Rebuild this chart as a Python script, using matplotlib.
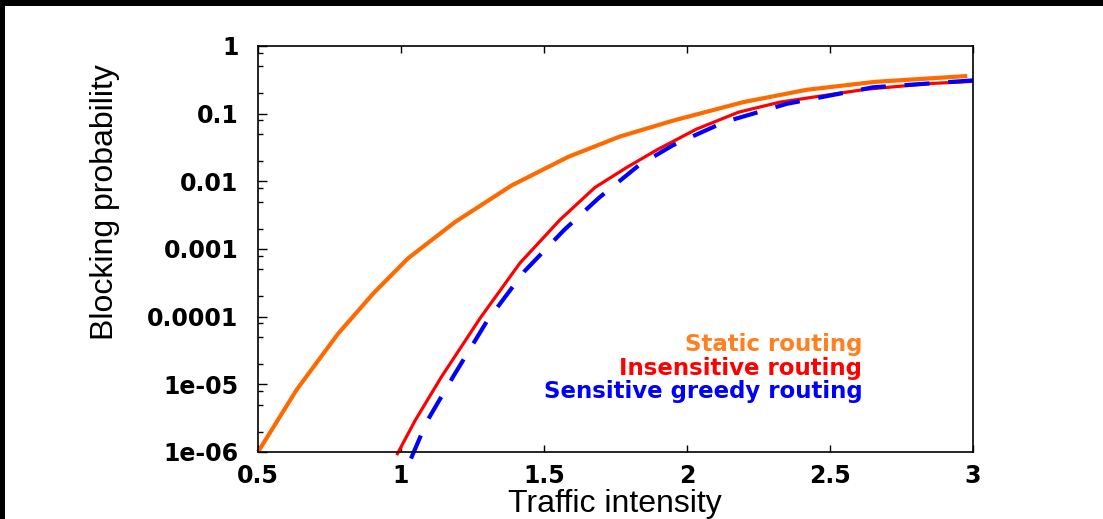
import matplotlib
matplotlib.use("Agg")
import matplotlib.pyplot as plt
from matplotlib.patches import Rectangle
from matplotlib.ticker import LogLocator, NullFormatter

# values
static_x = [0.5, 0.635, 0.78, 0.903, 1.025, 1.189, 1.387, 1.585, 1.766, 1.952, 2.197, 2.418, 2.657, 2.98]
static_y = [1e-6, 8.3e-6, 5.6e-5, 2.2e-4, 7.3e-4, 2.5e-3, 8.7e-3, 0.023, 0.046, 0.079, 0.148, 0.225, 0.295, 0.36]

insens_x = [0.985, 1.05, 1.142, 1.276, 1.416, 1.556, 1.678, 1.789, 1.894, 2.033, 2.18, 2.325, 2.628, 2.86, 3.0]
insens_y = [9e-7, 2.95e-6, 1.3e-5, 9.4e-5, 6.2e-4, 2.7e-3, 8.1e-3, 0.016, 0.029, 0.059, 0.105, 0.148, 0.23, 0.28, 0.30]

sens_x = [1.035, 1.09, 1.18, 1.30, 1.43, 1.57, 1.69, 1.83, 1.95, 2.13, 2.35, 2.65, 3.0]
sens_y = [8e-7, 2.8e-6, 1.25e-5, 8.5e-5, 4.6e-4, 1.9e-3, 5.6e-3, 0.017, 0.034, 0.075, 0.14, 0.245, 0.31]

xticks = [0.5, 1, 1.5, 2, 2.5, 3]
xtick_labels = ["0.5", "1", "1.5", "2", "2.5", "3"]
yticks = [1e-6, 1e-5, 1e-4, 1e-3, 1e-2, 1e-1, 1]
ytick_labels = ["1e-06", "1e-05", "0.0001", "0.001", "0.01", "0.1", "1"]

labels = ["Static routing", "Insensitive routing", "Sensitive greedy routing"]
label_colors = ["#ff8020", "#ff0000", "#0000ff"]

fig = plt.figure(figsize=(11.03, 5.19), dpi=100)
ax = fig.add_axes([0.2339, 0.1291, 0.6482, 0.7823])

ax.plot(static_x, static_y, color="#ff6a00", lw=3, clip_on=False, solid_capstyle="butt")
ax.plot(insens_x, insens_y, color="#ff0000", lw=2.3, clip_on=False, solid_capstyle="butt")
ax.plot(sens_x, sens_y, color="#0000ff", lw=3, ls=(0, (6, 4.5)), clip_on=False)

ax.set_yscale("log")
ax.set_xlim(0.5, 3)
ax.set_ylim(1e-6, 1)

ax.set_xticks(xticks)
ax.set_xticklabels(xtick_labels)
ax.set_yticks(yticks)
ax.set_yticklabels(ytick_labels)
ax.yaxis.set_minor_locator(LogLocator(base=10, subs=(2, 5, 8)))
ax.yaxis.set_minor_formatter(NullFormatter())

for lab in ax.get_xticklabels() + ax.get_yticklabels():
    lab.set_fontfamily("DejaVu Sans")
    lab.set_fontweight("bold")
    lab.set_fontsize(17)

ax.tick_params(axis="y", which="major", direction="in", length=6.5, width=1, pad=14, right=False)
ax.tick_params(axis="y", which="minor", direction="in", length=3.5, width=1, right=False)
ax.tick_params(axis="x", which="major", direction="in", length=5, width=1, pad=9, top=True)

for sp in ax.spines.values():
    sp.set_linewidth(1.2)

ax.set_xlabel("Traffic intensity", fontsize=23, family="Liberation Sans", va="top")
ax.xaxis.set_label_coords(0.499, -0.09)
ax.set_ylabel("Blocking probability", fontsize=23, family="Liberation Sans", va="center")
ax.yaxis.set_label_coords(-0.214, 0.616)

text_y = [0.249, 0.190, 0.133]
for lab, col, ty in zip(labels, label_colors, text_y):
    ax.text(0.845, ty, lab, color=col, transform=ax.transAxes, ha="right", va="baseline",
            fontsize=16.5, fontweight="bold", family="DejaVu Sans")

# black frame pieces at the top and left edges of the screenshot
fig.patches.append(Rectangle((0, 1 - 6 / 519), 1, 6 / 519, transform=fig.transFigure,
                             facecolor="black", edgecolor="none"))
fig.patches.append(Rectangle((0, 0), 5 / 1103, 1, transform=fig.transFigure,
                             facecolor="black", edgecolor="none"))

plt.savefig("out.png", dpi=100)
